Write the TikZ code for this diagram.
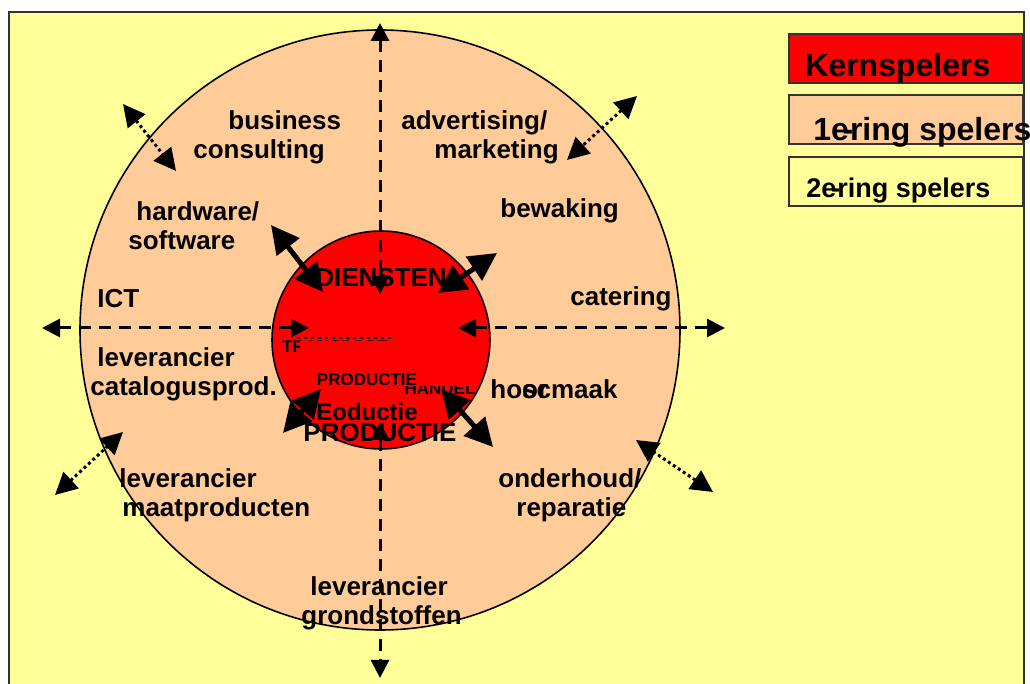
\documentclass[tikz,border=0pt]{standalone}
\usepackage{fontspec}
\setmainfont{Liberation Sans}
\usetikzlibrary{arrows.meta}

\definecolor{slideyellow}{HTML}{FFFF99}
\definecolor{ringpeach}{HTML}{FFCC99}
\definecolor{corered}{HTML}{FF0000}

\begin{document}
\begin{tikzpicture}[x={(0.5pt,0)}, y={(0,-0.5pt)},
    lbl/.style={anchor=west, align=left, inner sep=0pt, font=\bfseries\fontsize{13}{14.5}\selectfont},
    core/.style={inner sep=0pt, font=\bfseries\fontsize{13}{14}\selectfont},
    small/.style={inner sep=0pt, font=\bfseries\fontsize{8.5}{9}\selectfont},
    axis/.style={line width=1.5pt, dash pattern=on 6pt off 4pt,
        {Triangle[length=9pt,width=9pt]}-{Triangle[length=9pt,width=9pt]}},
    link/.style={line width=2.5pt,
        {Triangle[length=14pt,width=14pt]}-{Triangle[length=14pt,width=14pt]}},
    reach/.style={line width=1.5pt, dash pattern=on 1.5pt off 1.5pt,
        {Triangle[length=11pt,width=11pt]}-{Triangle[length=11pt,width=11pt]}},
    legend/.style={draw=black!80, line width=1pt, minimum width=117pt, minimum height=24.5pt, inner sep=0pt}]
    \useasboundingbox (0,0) rectangle (1030,684);

    % Background slide
    \fill[white] (0,0) rectangle (1030,684);
    \draw[fill=slideyellow, draw=black!80, line width=1pt] (9,12) rectangle (1024,700);

    % Rings
    \draw[fill=ringpeach, line width=0.8pt] (380,330) circle[radius=150pt];
    \draw[fill=corered, line width=0.8pt] (381,340) circle[radius=54.5pt];

    % Core labels, partly hidden
    \node[small] (transport) at (335,347) {TRANSPORT};
    \node[small] (handel) at (440,389) {HANDEL};
    \draw[line width=1pt, dash pattern=on 1.5pt off 2pt] (297,338) -- (395,338);
    \fill[corered] (300,341) rectangle (477,386);
    \node[small] (prodsmall) at (367,380) {PRODUCTIE};
    \node[inner sep=0pt, font=\bfseries\fontsize{12}{13}\selectfont] (eoductie) at (367,412) {Eoductie};
    \node[core] (productie) at (380,433) {PRODUCTIE};
    \node[core] (diensten) at (381,278) {DIENSTEN};

    % Axes
    \coordinate (top) at (380,23);
    \coordinate (topin) at (380,294);
    \coordinate (bot) at (380,678);
    \coordinate (botin) at (380,422);
    \coordinate (left) at (42,328);
    \coordinate (leftin) at (309,328);
    \coordinate (right) at (725,328);
    \coordinate (rightin) at (458,328);
    \draw[axis] (top) -- (topin);
    \draw[axis] (botin) -- (bot);
    \draw[axis] (left) -- (leftin);
    \draw[axis] (rightin) -- (right);

    % Links between core and first ring
    \coordinate (ulo) at (271,225);
    \coordinate (uli) at (323,292);
    \coordinate (uro) at (497,253);
    \coordinate (uri) at (438,293);
    \coordinate (llo) at (283,433);
    \coordinate (lli) at (321,389);
    \coordinate (lro) at (493,447);
    \coordinate (lri) at (441,389);
    \draw[link] (ulo) -- (uli);
    \draw[link] (uro) -- (uri);
    \draw[link] (llo) -- (lli);
    \draw[link] (lro) -- (lri);

    % Links out of the first ring
    \coordinate (a1) at (123,104);
    \coordinate (a2) at (176,171);
    \coordinate (b1) at (637,96);
    \coordinate (b2) at (567,160);
    \coordinate (c1) at (55,495);
    \coordinate (c2) at (123,432);
    \coordinate (d1) at (713,492);
    \coordinate (d2) at (636,440);
    \draw[reach] (a1) -- (a2);
    \draw[reach] (b1) -- (b2);
    \draw[reach] (c1) -- (c2);
    \draw[reach] (d1) -- (d2);

    % First ring players
    \node[lbl] (consult) at (193,137) {\hspace*{17.5pt}business\\consulting};
    \node[lbl] (advert) at (401,137) {advertising/\\\hspace*{16.5pt}marketing};
    \node[lbl] (hardsoft) at (128,226) {\hspace*{4pt}hardware/\\software};
    \node[lbl] (bewaking) at (500,211) {bewaking};
    \node[lbl] (ict) at (97,299) {ICT};
    \node[lbl] (catering) at (570,299) {catering};
    \node[lbl] (catalogus) at (90,374) {\hspace*{3.5pt}leverancier\\catalogusprod.};
    \node[lbl] (schoon) at (490,389) {ho\rlap{or}scmaak};
    \node[lbl] (maat) at (119,495) {leverancier\\\hspace*{1.5pt}maatproducten};
    \node[lbl] (onderhoud) at (498,495) {onderhoud/\\\hspace*{9pt}reparatie};
    \node[lbl] (grond) at (301,603) {\hspace*{4.5pt}leverancier\\grondstoffen};

    % Legend
    \node[legend, fill=corered, anchor=north west] (kern) at (788,33) {};
    \node[legend, fill=ringpeach, anchor=north west] (ring1) at (788,94) {};
    \node[legend, fill=slideyellow, anchor=north west] (ring2) at (788,156) {};
    \node[anchor=west, inner sep=0pt, font=\bfseries\fontsize{16}{17}\selectfont]
        at ([xshift=8.5pt,yshift=-4.75pt]kern.west) {Kernspelers};
    \node[anchor=west, inner sep=0pt, font=\bfseries\fontsize{16}{17}\selectfont]
        at ([xshift=12.5pt,yshift=-6.5pt]ring1.west) {1e\kern-.2em{-}\kern-.1em ring spelers};
    \node[anchor=west, inner sep=0pt, font=\bfseries\fontsize{13.5}{14}\selectfont]
        at ([xshift=9pt,yshift=-4.75pt]ring2.west) {2e\kern-.2em{-}\kern-.1em ring spelers};
\end{tikzpicture}
\end{document}
